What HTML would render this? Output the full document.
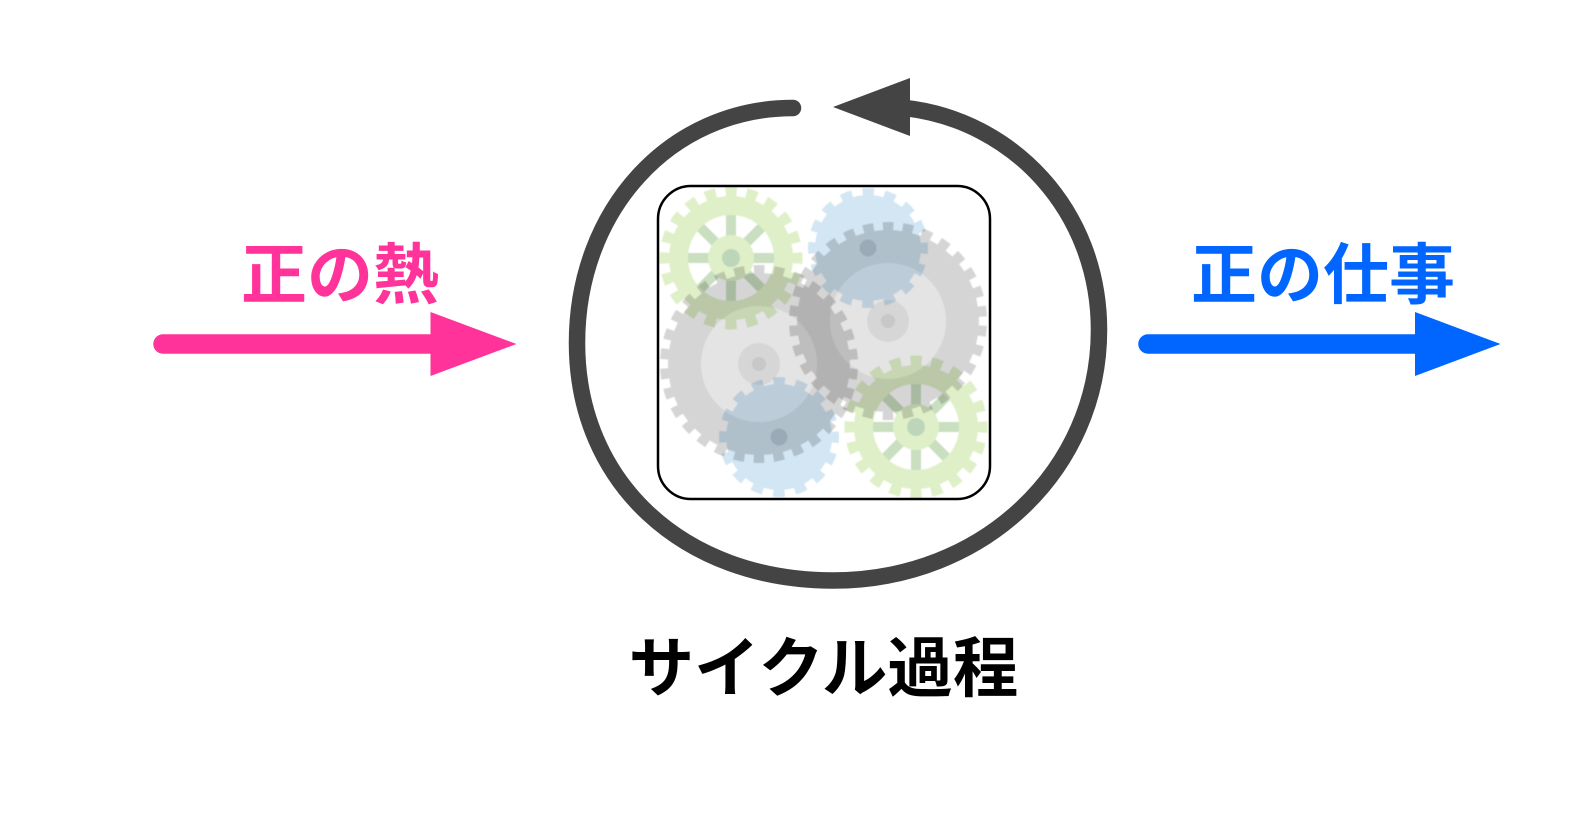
<!DOCTYPE html>
<html lang="ja">
<head>
<meta charset="utf-8">
<style>
html,body{margin:0;padding:0;background:#fff;width:1574px;height:827px;overflow:hidden}
svg{display:block}
text{font-family:"Liberation Sans","Noto Sans CJK JP",sans-serif;font-weight:700;font-size:66px}
.g{mix-blend-mode:multiply}
</style>
</head>
<body>
<svg width="1574" height="827" viewBox="0 0 1574 827" xmlns="http://www.w3.org/2000/svg">
<defs><filter id="b" x="-5%" y="-5%" width="110%" height="110%"><feGaussianBlur stdDeviation="0.5"/></filter></defs>
<rect width="1574" height="827" fill="#fff"/>
<g style="isolation:isolate" filter="url(#b)">
  <!-- grey left -->
  <g class="g" transform="translate(759,364)">
    <circle r="91" fill="#d5d5d5"/>
    <circle r="94.5" fill="none" stroke="#d5d5d5" stroke-width="9" stroke-dasharray="10.5 9.292" stroke-dashoffset="15.146"/>
    <circle r="58" fill="#e4e4e4"/>
    <circle r="21" fill="#d6d6d6"/>
    <circle r="7" fill="#c8c8c8"/>
  </g>
  <!-- grey right -->
  <g class="g" transform="translate(888,321)">
    <circle r="91" fill="#d5d5d5"/>
    <circle r="94.5" fill="none" stroke="#d5d5d5" stroke-width="9" stroke-dasharray="10.5 9.292" stroke-dashoffset="15.146"/>
    <circle r="58" fill="#e4e4e4"/>
    <circle r="21" fill="#d6d6d6"/>
    <circle r="7" fill="#c8c8c8"/>
  </g>
  <!-- blue top -->
  <g class="g" transform="translate(868,248)">
    <circle r="53" fill="#d3e6f3"/>
    <circle r="56" fill="none" stroke="#d3e6f3" stroke-width="8" stroke-dasharray="11.5 10.491" stroke-dashoffset="5.75"/>
    <circle r="8.5" fill="#b8ccdb"/>
  </g>
  <!-- blue bottom -->
  <g class="g" transform="translate(779,437)">
    <circle r="53" fill="#d3e6f3"/>
    <circle r="56" fill="none" stroke="#d3e6f3" stroke-width="8" stroke-dasharray="11.5 10.491" stroke-dashoffset="5.75"/>
    <circle r="8.5" fill="#b8ccdb"/>
  </g>
  <!-- green top-left -->
  <g class="g" transform="translate(731,258)">
    <g stroke="#c9dfc0" stroke-width="10">
      <line x1="-46" y1="0" x2="46" y2="0"/>
      <line x1="0" y1="-46" x2="0" y2="46"/>
      <line x1="-32" y1="-32" x2="32" y2="32"/>
      <line x1="-32" y1="32" x2="32" y2="-32"/>
    </g>
    <circle r="52.5" fill="none" stroke="#dff0c8" stroke-width="19"/>
    <circle r="66" fill="none" stroke="#dff0c8" stroke-width="11" stroke-dasharray="11 9.735" stroke-dashoffset="5.5"/>
    <circle r="23" fill="#dff0c8"/>
    <circle r="9" fill="#bdd6b9"/>
  </g>
  <!-- green bottom-right -->
  <g class="g" transform="translate(916,427)">
    <g stroke="#c9dfc0" stroke-width="10">
      <line x1="-46" y1="0" x2="46" y2="0"/>
      <line x1="0" y1="-46" x2="0" y2="46"/>
      <line x1="-32" y1="-32" x2="32" y2="32"/>
      <line x1="-32" y1="32" x2="32" y2="-32"/>
    </g>
    <circle r="52.5" fill="none" stroke="#dff0c8" stroke-width="19"/>
    <circle r="66" fill="none" stroke="#dff0c8" stroke-width="11" stroke-dasharray="11 9.735" stroke-dashoffset="5.5"/>
    <circle r="23" fill="#dff0c8"/>
    <circle r="9" fill="#bdd6b9"/>
  </g>
</g>
<rect x="658" y="186" width="332" height="313" rx="33" ry="33" fill="none" stroke="#000" stroke-width="2.5"/>

<!-- cycle -->
<path d="M793 108 C670 108 577 210 577 343 C577 482 683 580.5 833 580.5 C983 580.5 1099 470 1099 330 C1099 210 1012 120 905 108" fill="none" stroke="#444" stroke-width="16.5" stroke-linecap="round"/>
<polygon points="833,107 910,78 910,136" fill="#444"/>

<!-- left arrow -->
<line x1="163" y1="344" x2="435" y2="344" stroke="#ff3399" stroke-width="19.5" stroke-linecap="round"/>
<polygon points="516.5,344 430.5,312 430.5,376" fill="#ff3399"/>
<!-- right arrow -->
<line x1="1148" y1="344" x2="1420" y2="344" stroke="#0066ff" stroke-width="19.5" stroke-linecap="round"/>
<polygon points="1500.5,344 1415,312 1415,376" fill="#0066ff"/>

<text x="340" y="298" text-anchor="middle" fill="#ff3399">正の熱</text>
<text x="1323" y="298" text-anchor="middle" fill="#0066ff">正の仕事</text>
<text x="823.5" y="691" text-anchor="middle" fill="#000" style="font-size:65.5px">サイクル過程</text>
</svg>
</body>
</html>
